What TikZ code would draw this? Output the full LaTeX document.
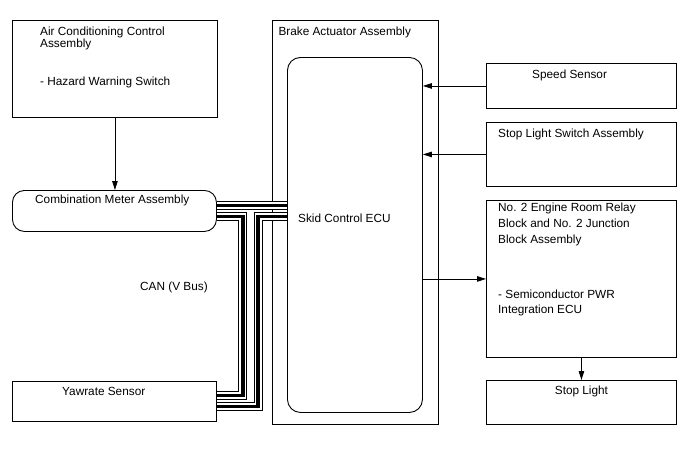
\documentclass[tikz,border=0pt]{standalone}
\usepackage{fontspec}
\setmainfont{Liberation Sans}
\usetikzlibrary{arrows.meta,positioning}

\begin{document}
\begin{tikzpicture}[
  x=1pt, y=-1pt,
  box/.style={draw, line width=0.9pt, anchor=north west, inner sep=0pt},
  lbl/.style={inner sep=0pt, align=left, font=\fontsize{11.8}{12.7}\selectfont},
  arrow/.style={-{Triangle[length=9pt, width=5.5pt]}, line width=0.8pt},
  canbus/.style={line width=3.5pt, preaction={draw, line width=9pt}, preaction={draw=white, line width=7pt}}
]
\useasboundingbox (0,0) rectangle (688,463);

% boxes
\node[box, minimum width=205pt, minimum height=97pt] (ac) at (12,20) {};
\node[box, rounded corners=12pt, minimum width=204pt, minimum height=41pt] (meter) at (12,190) {};
\node[box, minimum width=204pt, minimum height=40pt] (yaw) at (12,381) {};
\node[box, minimum width=166pt, minimum height=404pt] (brake) at (272,20) {};
\node[box, rounded corners=13pt, minimum width=135pt, minimum height=355pt] (ecu) at (287,57) {};
\node[box, minimum width=190pt, minimum height=45pt] (speed) at (486,63) {};
\node[box, minimum width=190pt, minimum height=64pt] (slsw) at (486,122) {};
\node[box, minimum width=190pt, minimum height=157pt] (relay) at (486,200) {};
\node[box, minimum width=190pt, minimum height=44pt] (stop) at (486,380) {};

% labels
\node[lbl, below right=6.5pt and 28pt of ac.north west] (actitle) {Air Conditioning Control\\Assembly};
\node[lbl, below right=56.3pt and 28pt of ac.north west] (acsw) {- Hazard Warning Switch};
\node[lbl, below right=4.8pt and 23pt of meter.north west] (metertxt) {Combination Meter Assembly};
\node[lbl, below right=5.8pt and 50pt of yaw.north west] (yawtxt) {Yawrate Sensor};
\node[lbl, below right=6.3pt and 6.3pt of brake.north west] (braketxt) {Brake Actuator Assembly};
\node[lbl, below right=156.8pt and 11pt of ecu.north west] (ecutxt) {Skid Control ECU};
\node[lbl, below right=6.8pt and 46pt of speed.north west] (speedtxt) {Speed Sensor};
\node[lbl, below right=6.8pt and 12pt of slsw.north west] (slswtxt) {Stop Light Switch Assembly};
\node[lbl, below right=3pt and 12pt of relay.north west, font=\fontsize{11.8}{16}\selectfont] (relaytitle) {No. 2 Engine Room Relay\\Block and No. 2 Junction\\Block Assembly};
\node[lbl, below right=90pt and 12pt of relay.north west, font=\fontsize{11.8}{15}\selectfont] (relayecu) {- Semiconductor PWR\\Integration ECU};
\node[lbl, anchor=base] (stoptxt) at ([yshift=-14pt]stop.north) {Stop Light};
\node[lbl, anchor=base west] (cantxt) at (140,290.3) {CAN (V Bus)};

% signal lines
\draw[arrow] (ac.south) -- (ac.south |- meter.north);
\draw[arrow] (speed.west) -- (speed.west -| ecu.east);
\draw[arrow] (slsw.west) -- (slsw.west -| ecu.east);
\draw[arrow] (relay.west -| ecu.east) -- (relay.west);
\draw[arrow] (relay.south) -- (stop.north);

% CAN bus
\draw[canbus] ([yshift=5.5pt]meter.east) -- ([yshift=5.5pt]meter.east -| ecu.west);
\draw[canbus] ([yshift=-5.5pt]meter.east) -- ++(26,0) |- ([yshift=6pt]yaw.east);
\draw[canbus] ([yshift=-5.5pt]meter.east -| ecu.west) -- ++(-29,0) |- ([yshift=-5pt]yaw.east);
\end{tikzpicture}
\end{document}
